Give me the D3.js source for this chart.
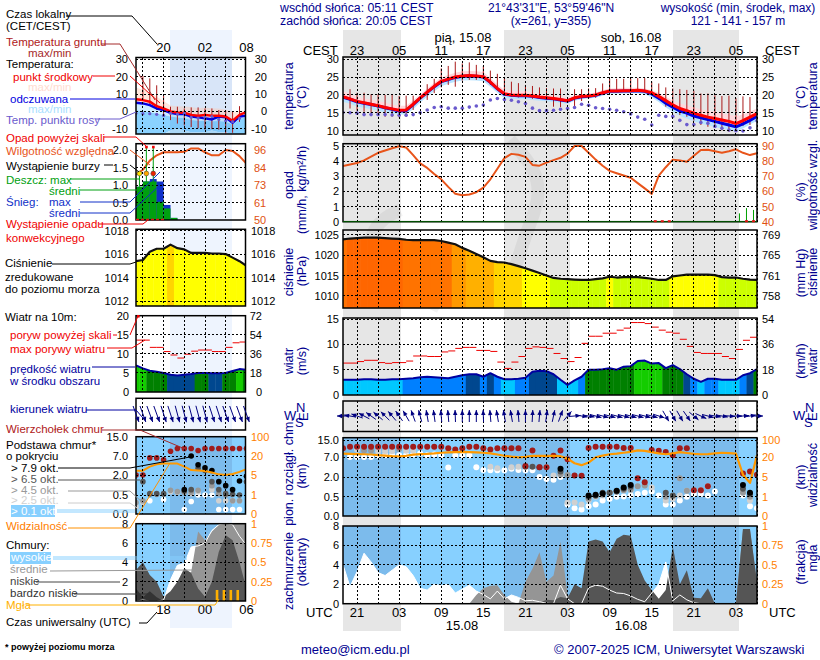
<!DOCTYPE html>
<html>
<head>
<meta charset="utf-8">
<script src="https://cdn.jsdelivr.net/npm/d3@7"></script>
<style>
  body { margin: 0; background: #fff; }
  text { font-family: "Liberation Sans", Arial, sans-serif; }
  .tick line, .domain { display: none; }
</style>
</head>
<body>
<div id="chart"></div>
<script>
// hour index 0 = 19 UTC on 14.08, one value per hour up to 06 UTC on 16.08
const temp = [19.5,18.9,18.2,17.8,17.4,17,16.5,16.1,15.7,15.8,17.4,19.2,20.8,22.4,23.8,24.4,25,25.3,25.4,25.3,25.1,23.6,21.8,20.3,20,19.9,19.9,19.7,19.4,19.2,19,18.7,18.4,19.2,19.6,19.7,20,20.6,21.1,21.1,21.2,21.2,21.3,21.1,20.6,19.6,18.4,17.2,16.2,15.6,14.9,14.3,13.8,13.4,13,12.6,12,12.8,13.8,14.8];
const tempMax = [21,20.3,19.5,19,18.7,18.3,17.8,17.3,17,17,18.5,20.2,21.8,23.4,24.9,25.6,26.2,26.6,26.7,26.6,26.4,24.8,23,21.4,21.2,21,21,20.7,20.3,20.1,19.8,19.5,19.2,19.9,20.2,20.4,20.7,21.3,21.8,21.9,22,22,22,21.8,21.3,20.6,19.5,18.4,17.6,17.1,16.5,16,15.6,15.3,14.9,14.5,14,14.6,15.4,16.2];
const tempMin = [18.2,17.6,17,16.6,16.2,15.8,15.3,15,14.7,14.8,16.3,18.1,19.7,21.2,22.6,23.3,23.9,24.2,24.3,24.2,24,22.5,20.8,19.3,19.1,19,19,18.8,18.6,18.4,18.2,18,17.8,18.6,19,19.2,19.4,20,20.5,20.5,20.6,20.7,20.7,20.5,20,19,17.7,16.5,15.4,14.7,13.9,13.3,12.8,12.4,12,11.5,11,11.8,12.9,13.9];
const feels = [19.4,18.8,18.1,17.7,17.3,16.9,16.4,16,15.5,15.6,17.3,19.1,20.7,22.3,23.7,24.3,24.9,25.2,25.3,25.2,25,23.5,21.7,20.2,19.9,19.8,19.8,19.6,19.3,19.1,18.9,18.6,18.3,19.1,19.5,19.6,19.9,20.5,21,21,21.1,21.1,21.2,21,20.3,19.1,17.7,16.6,15.5,14.9,14.1,13.6,13.1,12.6,12.1,11.6,11.1,11.9,12.9,14];
const feelsMin = [18.1,17.5,16.8,16.4,16,15.6,15.1,14.8,14.5,14.5,16,17.9,19.5,21,22.4,23.1,23.7,24,24.1,24,23.8,22.3,20.6,19.1,18.9,18.8,18.8,18.6,18.4,18.2,18,17.8,17.5,18.4,18.8,19,19.2,19.8,20.3,20.3,20.4,20.5,20.5,20.2,19.3,18,16.5,15.3,14.1,13.4,12.6,12,11.5,11,10.6,10.2,9.8,10.6,11.7,12.8];
const dewPoint = [15.1,15,14.9,14.5,14.5,14.5,14.5,14.4,14.3,14.3,14.5,15,15.8,16.5,16.7,16.3,16.3,16.3,16.6,16.9,17.2,18.6,19,18.7,18.5,18.1,17.6,16.3,15.6,15.6,15.7,16,16.2,16.5,17.4,17.1,16.4,16.2,16,15.7,15.3,14.7,13.8,13.2,11.6,14.3,14,14,12.9,11.7,11.7,12.3,12.1,11.2,10.7,10.2,10,9.9,10.8,12.8];
const groundMax = [null,21.6,20.6,20.6,20.2,20.2,20,20,19.7,19.8,19.8,null,23,24.5,27.4,28.1,29.3,28.8,29.1,28.4,28.1,26.8,25.9,24.7,23.7,23.3,22.8,22.5,22.1,21.9,21.8,21.8,null,21.6,21.6,21.8,21.9,23.2,24.5,24.5,24.5,24.6,24.7,24.7,23.7,23.2,22.1,21.8,21.6,21.4,21.2,20.4,20.4,19.9,19.7,19.8,19.1,19.6,19.4,null];
const groundMin = [null,16.2,15.6,15.3,14.9,14.4,13.9,13.9,13.7,13.9,15.8,null,18.6,20.5,22.1,22.8,22.3,24,24.2,24.2,24.5,22.8,21.4,19.8,19.5,19.3,18.9,18.9,18.9,18.5,16.7,16.6,null,16.2,18.3,19,19.2,20,21.4,21.4,21.4,21.4,21.1,21.1,20,18.6,16.7,16,14.4,13.9,12.8,11.6,11.1,11.1,10.1,9.7,9.7,11.3,11.6,null];
const humidity = [76.7,77.8,78.8,80.5,83,85.5,87,88.5,89.8,89,84,78.5,75.5,71.5,68,63,58.5,57.5,58,59.5,62.5,68,75,82,84.8,84.2,82.8,77.5,77,79,80.7,82.2,85,90,90,85.5,81,77,73.6,72,70.5,69,65.5,62,58.4,70.4,76,81,80.5,79.6,83.5,87.3,87.5,86.5,85.6,86.5,87.8,85.5,84,85.3];
const rainMaxHours = [56.5,57.5,58.5];
const rainMax = [0.55,0.9,0.78];
const convectiveHours = [44.5,45.5,46.5,57.5,58.5];
const pressure = [1023.9,1024.1,1024.2,1024.3,1024.3,1024.3,1024.2,1024.1,1024,1023.8,1023.7,1023.7,1023.7,1023.7,1023.5,1023.1,1022.7,1021.8,1021.1,1020.3,1019.5,1018.6,1018.3,1018.2,1017.8,1017.3,1016.8,1016.2,1015.6,1015,1014.4,1014.2,1014.1,1014,1013.9,1013.9,1014.1,1014.3,1014.7,1014.5,1014.6,1014.6,1014.6,1014.4,1014.2,1013.9,1013.9,1014.8,1015,1015.2,1015.2,1015.2,1015.2,1015.1,1014.6,1014.5,1014.5,1014.2,1014,1013.9];
const windMean = [3,3,3,3.1,3.1,3,3,3.1,3.1,3.2,3.3,3.5,3.6,3.5,3.4,3.3,3.6,3.9,4.1,4.1,3.6,4.3,3.6,3.1,3.1,3.2,3.4,4.6,4.8,4.7,4.1,3,2,2.9,3.6,5,5,5.1,5.3,5,5.6,5.7,6.7,6.8,6.2,6.3,5.3,5.9,5.1,4.1,3.2,2.6,3.2,3.2,3,3,3,3.9,4.3,5.1];
const windGust = [6.3,6.3,6.6,6.85,6.85,6.4,6.25,6.4,6.4,6.7,7.7,7.7,7.6,7.6,8.5,8.7,9.2,9.4,9.4,8.8,8.8,8.6,6.5,5.25,6.5,7.6,9.2,9.5,9.4,9.2,8.2,7.2,6.6,7.4,10.2,11.6,11.6,12.2,12.2,12.8,13.2,14.3,14.3,14.1,13.4,12.8,12.4,12.2,11,9.6,8.4,8.2,8.2,8.2,7.6,7.2,9,10.8,11.4];
const windDir = [270,280,290,298,305,310,315,320,325,330,340,345,350,352,355,355,358,0,0,0,358,355,350,350,350,355,0,3,5,8,12,20,40,85,100,100,105,105,105,105,105,105,105,105,105,108,150,150,150,145,130,115,105,100,100,95,90,85,80,90];
const cloudTop = [11.2,11.9,11.9,11.9,11.9,11.9,11.9,11.9,11.9,11.9,11.9,11.9,11.9,11.9,11.9,11.2,10.6,11.2,11.9,11.9,11.2,10.6,11.2,11.2,11.2,11.2,4.8,10.1,4.5,4.5,7.7,10.1,6.5,2.4,2.3,11.3,11.9,11.9,11.9,11.9,11.3,11.3,1.9,1.6,10.4,10,9.5,8,11.2,11.2,1,1,1.3,null,null,null,null,2.9,3.4,2.6];
const base01 = [null,7.1,7.1,7.1,7.1,7.7,7.9,7.9,7.9,8,8.3,8.7,8,8.3,8,4.4,7.8,7.8,7.8,4.5,3.8,3.7,3.7,3.7,4.1,3.8,3.7,3.7,2,1.85,1.8,2,0.3,0.2,0.17,0.25,0.3,0.4,0.45,0.5,0.52,0.6,0.7,0.8,0.9,0.6,0.3,0.3,0.4,0.5,0.7,0.7,0.6,0.9,null,null,null,0.6,0.25,0.2];
// [hour, km] pairs, these levels are only present at some hours
const base25 = [[2,10.5],[5,9.8],[6,9.8],[7,9.8],[9,10],[10,10.2],[21,4.6],[22,4.25],[24,4.5],[25,4.6],[29,4.5],[30,2.4],[31,2.5],[32,0.35],[33,0.35],[34,0.3],[35,0.4],[36,0.5],[37,0.6],[38,0.8],[39,0.9],[40,0.97],[41,1],[44,1.2],[46,0.4],[47,0.45],[48,0.6],[49,0.95],[50,1],[51,1],[52,1.3],[57,1],[58,0.4]];
const base45 = [[3,10.2],[4,10.2],[8,10.8],[31,2.7],[32,2.5],[35,0.45],[36,0.55],[37,0.65],[38,0.8],[39,0.9],[40,1],[41,1.05],[42,1.3],[43,1.35],[46,0.5],[47,0.55],[48,1.9],[49,0.95],[57,0.8],[58,0.5]];
const base65 = [[26,4.6],[27,4.6],[28,4.5],[31,3.4],[35,0.5],[36,0.6],[37,0.8],[38,0.8],[39,0.9],[40,1.1],[41,1.25],[46,0.8],[47,0.6],[57,1.1],[58,0.7]];
const base79 = [[31,4.1],[35,0.6],[36,0.65],[37,0.75],[39,0.95],[40,1.2],[41,1.4],[57,1.4],[58,0.8]];
const visibility = [37,36,35,34,33,30,28,25,24,27,32,35,36,38,41,43,44,45,44,43,41,38,33,27,23,20,22,27,27,27,27,25,19,15.5,14,16,20,28,34,37,41,45,52,50,44,38,34,38,44,40,36,34,35,38,41,39,37,6.75,3.8,30];
const cloudHigh = [4,1.75,3.3,5.2,4.3,3.2,2.9,3.45,4,3.8,2.9,1.6,1.4,2,1.85,2,1.1,1.5,1.9,1.3,0.95,0.5,1.3,0.5,0.9,0.65,0.3,0.35,0.2,0.05,0,1.9,0.5,0,0,1.64,1.9,1.8,1.4,1.1,1.05,0.8,0.45,0.2,1.1,2,4.3,0.3,0.9,0.4,0.1,0,0,0,0,0,0,0,0,0];
const cloudMid = [0,0,0,0,0,0,0,0,0,0,0,0,0,0,0,0,0,0,0,0.9,1.6,1.85,1.9,0.9,0.2,0,2.25,3.6,5.3,2.25,2.9,6.4,1,0,0,0,0,0,0,0,0,0,0,0,0,0,0,0,0,0,0,0,0,0,0,0,0,7.7,7.6,2.2];
const cloudLow = [0,0,0,0,0,0,0,0,0,0,0,0,0,0,0,0,0,0,0,0,0,0,0,0,0,0,0,0,0.1,0.4,0.35,0.7,0.55,2,1.6,6.4,6.6,6.4,5.3,6.7,7.1,7,4,2.4,1.4,0.5,1.4,5.9,2,3.45,0.6,0.55,1.6,0,0,0,0,7.7,7.7,2.25];

// side panel, hour index 0 = 14 UTC
const sideTemp = [7,6.5,5.6,3,1.7,0,-0.6,-0.8,-2,-2.5,-2,-2.5,-2.5,-3,-5.4,-2,-0.4];
const sideTempMax = [13.8,12.4,10.8,8.4,6,3.4,3,2.8,2.6,1.8,2.2,1.8,1.6,1,-0.2,0,0.5];
const sideFeels = [5,4.6,3.6,1.7,0.8,-0.8,-1.5,-1.5,-3,-3.4,-4,-4.6,-3,-3.4,-6.5,-3,-2.5];
const sideFeelsMax = [0.6,0.2,-0.5,-1.2,-2,-3,-3.5,-4,-5,-5.4,-5.4,-5.6,-5.5,-6,-7.5,-4.5,-3];
const sideFeelsMin = [-13,-13,-13,-13,-13,-11,-10,-11,-12,-12,-12,-11,-12,-12,-13,-13,-13];
const sideFloor = [-13.5,-13.5,-13.5,-13.5,-13.5,-13.5,-13.5,-13.5,-13.5,-13.5,-13.5,-13.5,-13.5,-13.5,-13.5,-13.5,-13.5];
const sideDew = [-1.1,-1.3,-1.3,-1.7,-2.3,-1.1,-1.5,-1.1,-3.4,-3.8,-3.4,-3,-4.6,-5.4,-5.9,-4];
const sideGroundMax = [null,20.4,19,15,9,2.7,2.7,1.7,2.3,2.3,1.7,1.7,0.8,0.4,-0.2,3];
const sideGroundMin = [null,6.5,4.2,0.8,-2,-5,-7,-8,-9,-9.7,-10.5,-10.2,-10.5,-12.7,-12.3,-6];
const sideHumidity = [80,83,89,92.5,94.5,94.5,94.5,94.8,97,97,94.5,92.5,92.5,96,95.3,92,87];
const sideRainMean = [0.95,1.1,1.1,0.52,0.33,0.06];
const sideRainTotal = [0.95,1.1,1.17,1.1,0.43,0.06];
const sideRainMaxHours = [0.5,1.5,2.5];
const sideRainMaxTop = [1.3,2.1,2.1];
const stormHours = [0.5,1.5,2.5];
const stormColors = ["#ffe600","#ffa500","#ee2200"];
const sidePressure = [1015.4,1015.5,1016.2,1016.45,1016.45,1016.8,1016.5,1016.4,1016.1,1016.1,1016.1,1016.05,1016.05,1016,1015.7,1015.4,1015];
const sideWind = [7,6.2,5.6,5.3,5,4.5,4.3,4.5,4.7,5,5,4.9,4.9,5,5.5,6,5.8];
const sideGust = [13.6,13.6,11.7,11.7,10.6,9.7,8.9,9.9,10.7,11,11,10.6,10.6,11.7,12.9,13.1];
const sideDir = [160,160,160,160,162,162,165,165,165,165,165,162,162,160,160,160,160];
const sideTop = [2,2,6.5,6.5,6,9,10.1,10.1,10.1,9.3,10.1,10.1,10.1,10.1,10.1,10.1,10.1];
const sideBase79 = [[7,0.9],[8,7],[9,4.7],[10,3.9],[11,3.2],[12,1.5],[13,1.2],[14,0.9],[15,1.55],[16,1.9]];
const sideBase65 = [[1,1.5],[2,0.6],[3,0.6],[4,0.6],[7,0.8],[8,0.9],[9,3.8],[10,3.2],[11,1.5],[12,0.9],[13,0.6],[14,0.55],[15,0.5],[16,1.5]];
const sideBase45 = [[0,0.3],[1,0.35],[2,0.55],[3,0.55],[4,0.55],[5,0.85],[6,0.75],[7,0.7],[8,0.7],[9,0.85],[11,1.2],[12,0.6],[13,0.5],[14,0.35],[15,0.35]];
const sideBase25 = [[0,0.2],[1,0.3],[5,0.75],[6,0.7],[8,0.6],[9,0.75],[11,0.9],[12,0.35],[13,0.35],[14,0.35],[15,0.35]];
const sideBase01 = [[2,0.35],[4,0.38],[7,0.12],[8,0.33],[9,0.5],[10,0.5],[11,0.5],[12,0.12],[13,0.12],[14,0.12],[15,0.12]];
const sideVis = [8.4,8.4,11.6,13.4,14,14,14,11.6,8.9,8.5,8.2,7,5.5,5,5.8,7.5,9.7];
const sideHigh = [0,0.1,0,0,0.1,2.2,3.7,3.9,5.6,5.7,6,7.3,7.9,8,7.9,6.7,5.8];
const sideMid = [0,0,0,0,0,0,0.4,2.6,3,7.2,6.3,7.2,7.9,8,8,8,8];
const sideLow = [3.2,4,2.7,2,0.45,1,2,3.4,2.9,1.3,0.45,2,5.1,6.8,6.3,4,1.3];
const sideVeryLow = [1.3,0.4,1,0.4,0,0,0,0,0,0,0,0,0,0,0,0,0];
const fogHours = [11.7,12.7,13.7,14.7];

// tick labels
const mainGridHours = d3.range(2, 60, 3);
const timeHours = [2,8,14,20,26,32,38,44,50,56];
const cestLabels = ["23","05","11","17","23","05","11","17","23","05"];
const utcLabels = ["21","03","09","15","21","03","09","15","21","03"];
const sideGridHours = [1,4,7,10,13];
const nightBands = [[343,401],[504,570],[673,739]];

const navy = "#000090", sky = "#87d0ff", skyNight = "#7cbbec";
const lineRed = "#ff0000", humOrange = "#e8541a", axisOrange = "#ff8000";

const svg = d3.select("#chart").append("svg").attr("width", 820).attr("height", 660);
const defs = svg.append("defs");
let clipCount = 0;

const xMain = d3.scaleLinear([0, 59], [343, 757]);
const xSide = d3.scaleLinear([0, 16], [136, 246.4]);

// night bands behind everything
nightBands.forEach((b) => {
  svg.append("rect").attr("x", b[0]).attr("y", 30).attr("width", b[1] - b[0]).attr("height", 601).attr("fill", "#e6e6e6");
});
svg.append("rect").attr("x", 170).attr("y", 30).attr("width", 62).attr("height", 598).attr("fill", "#eef4fe");

// faint logo swirl behind the panels
const swirl = d3.line().curve(d3.curveBasis);
[[[400, 210], [373, 223], [365, 263], [407, 290], [440, 307]],
 [[510, 140], [537, 170], [540, 200], [527, 230], [517, 263], [507, 290]]].forEach((pts) => {
  svg.append("path").attr("d", swirl(pts)).attr("fill", "none").attr("stroke", "#000")
    .attr("stroke-opacity", 0.05).attr("stroke-width", 13);
});

function addText(g, s, x, y, color, size, anchor) {
  return g.append("text").attr("x", x).attr("y", y).attr("fill", color || "#000")
    .attr("font-size", size || 11).attr("text-anchor", anchor || "start").text(s);
}

function vText(s, x, yc, color) {
  svg.append("text").attr("transform", `translate(${x},${yc}) rotate(-90)`)
    .attr("fill", color || navy).attr("font-size", 12.5).attr("text-anchor", "middle").text(s);
}

function makePanel(x, y, x0, x1) {
  const id = "clip" + clipCount++;
  const [y0, y1] = [y.range()[0], y.range()[y.range().length - 1]];
  defs.append("clipPath").attr("id", id).append("rect")
    .attr("x", x0).attr("y", y1).attr("width", x1 - x0).attr("height", y0 - y1);
  const g = svg.append("g");
  return { g: g, body: g.append("g").attr("clip-path", `url(#${id})`), x0, x1, y0, y1 };
}

function drawGrid(p, x, y, gridHours, gridValues) {
  const grid = p.g.append("g").attr("stroke", "#000").attr("stroke-dasharray", "2,2").attr("shape-rendering", "crispEdges");
  gridHours.forEach((h) => {
    grid.append("line").attr("x1", x(h)).attr("x2", x(h)).attr("y1", p.y1).attr("y2", p.y0);
  });
  gridValues.forEach((v) => {
    grid.append("line").attr("x1", p.x0).attr("x2", p.x1).attr("y1", y(v)).attr("y2", y(v));
  });
  p.g.append("rect").attr("x", p.x0).attr("y", p.y1).attr("width", p.x1 - p.x0).attr("height", p.y0 - p.y1)
    .attr("fill", "none").attr("stroke", "#000").attr("stroke-width", 1.5);
}

function drawAxis(side, scale, values, labels, at, color, anchor) {
  const axis = side === "left" ? d3.axisLeft(scale) : d3.axisRight(scale);
  axis.tickValues(values).tickSize(0).tickPadding(0).tickFormat((d, i) => labels[i]);
  const g = svg.append("g").attr("transform", `translate(${at},0)`).call(axis);
  g.selectAll("text").attr("fill", color || "#000").attr("font-size", 11)
    .attr("font-family", '"Liberation Sans", Arial, sans-serif');
  if (anchor) g.selectAll("text").attr("text-anchor", anchor);
  g.select(".domain").remove();
}

const hourOf = (arr) => arr.map((v, i) => [i, v]);

function drawLine(p, x, y, pts, color, width) {
  p.body.append("path")
    .attr("d", d3.line().defined((d) => d[1] !== null).x((d) => x(d[0])).y((d) => y(d[1]))(pts))
    .attr("fill", "none").attr("stroke", color).attr("stroke-width", width).attr("stroke-linejoin", "round");
}

function drawBand(p, x, y, hi, lo, color) {
  const area = d3.area().x((d, i) => x(i)).y0((d, i) => y(lo[i])).y1((d, i) => y(hi[i]));
  p.body.append("path").attr("d", area(hi)).attr("fill", color);
}

function stepFill(p, x, y, values, color, base) {
  const id = "clip" + clipCount++;
  const area = d3.area().x((d, i) => x(i)).y0(y(base)).y1((d) => y(d));
  defs.append("clipPath").attr("id", id).append("path").attr("d", area(values));
  const g = p.body.append("g").attr("clip-path", `url(#${id})`);
  g.selectAll("rect").data(values).enter().append("rect")
    .attr("x", (d, i) => x(i - 0.5)).attr("width", (d, i) => x(i + 0.5) - x(i - 0.5) + 0.4)
    .attr("y", p.y1).attr("height", p.y0 - p.y1)
    .attr("fill", (d) => color(d));
}

function drawArrows(g, x, yc, dirs, len) {
  dirs.forEach((dir, i) => {
    const a = (dir * Math.PI) / 180, dx = Math.sin(a), dy = -Math.cos(a);
    const cx = x(i), cy = yc, tipX = cx + (dx * len) / 2, tipY = cy + (dy * len) / 2;
    g.append("line").attr("x1", cx - (dx * len) / 2).attr("y1", cy - (dy * len) / 2)
      .attr("x2", tipX).attr("y2", tipY).attr("stroke", "#000080").attr("stroke-width", 1);
    const bx = tipX - dx * 5, by = tipY - dy * 5;
    g.append("path").attr("fill", "#000080")
      .attr("d", `M${tipX},${tipY}L${bx - dy * 2.2},${by + dx * 2.2}L${bx + dy * 2.2},${by - dx * 2.2}Z`);
  });
}

function dots(p, x, y, pts, color, r) {
  p.body.append("g").selectAll("circle").data(pts.filter((d) => d[1] !== null)).enter().append("circle")
    .attr("cx", (d) => x(d[0])).attr("cy", (d) => y(d[1])).attr("r", r).attr("fill", color);
}

function cloudLayers(p, x, y, high, mid, low, veryLow) {
  const area = (vals) => d3.area().x((d, i) => x(i)).y0(y(0)).y1((d) => y(d))(vals);
  p.body.append("path").attr("d", area(high)).attr("fill", "#fff");
  p.body.append("path").attr("d", area(mid)).attr("fill", "#959595");
  p.body.append("path").attr("d", area(low)).attr("fill", "#555");
  if (veryLow) p.body.append("path").attr("d", area(veryLow)).attr("fill", "#333");
  drawLine(p, x, y, hourOf(high), "#fff", 1);
}

// wind and pressure colour classes
const windColor = d3.scaleThreshold().domain([3.15, 4, 5, 6]).range(["#00c8ff", "#0080ff", "#00478f", "#008000", "#14cc00"]);
const pressColor = d3.scaleThreshold().domain([1014.65, 1016.9, 1018.4, 1021.3, 1022.8, 1023.95])
  .range(["#ccff00", "#ffff00", "#ffd400", "#ffb000", "#ff9900", "#ff7300", "#ff6600"]);

// ---- main column ----
const yTemp = d3.scaleLinear([8.8, 30.6], [135, 57]);
const yPrec = d3.scaleLinear([0, 5.16], [221.7, 143.7]);
const yHum = d3.scaleLinear([40, 90], [221.7, 146]);
const yPres = d3.scaleLinear([1007, 1026.2], [308, 230]);
const yWind = d3.scaleLinear([0, 15.2], [395, 318]);
const yBase = d3.scaleLinear([0, 0.5, 2, 7, 15, 16], [516, 496.7, 477, 457.3, 440, 437.7]);
const yVis = d3.scaleLinear([0, 1, 5, 20, 100, 110], [516, 496.7, 477, 457.3, 440, 437.7]);
const yCloud = d3.scaleLinear([0, 8], [603.7, 526]);

let p = makePanel(xMain, yTemp, 343, 757);
drawBand(p, xMain, yTemp, tempMax, tempMin, "#ffd8dc");
drawBand(p, xMain, yTemp, feels, feelsMin, "#b8e4ff");
drawGrid(p, xMain, yTemp, mainGridHours, [10, 15, 20, 25, 30]);
groundMax.forEach((v, i) => {
  if (v === null) return;
  p.body.append("line").attr("x1", xMain(i)).attr("x2", xMain(i)).attr("y1", yTemp(v)).attr("y2", yTemp(groundMin[i]))
    .attr("stroke", "#aa1a1a").attr("stroke-width", 1);
});
drawLine(p, xMain, yTemp, hourOf(feels), "#0000e0", 3);
drawLine(p, xMain, yTemp, hourOf(temp), lineRed, 3);
dots(p, xMain, yTemp, hourOf(dewPoint), "#6a5acd", 1.8);

p = makePanel(xMain, yPrec, 343, 757);
drawGrid(p, xMain, yPrec, mainGridHours, [0, 1, 2, 3, 4, 5]);
rainMaxHours.forEach((h, i) => {
  p.body.append("line").attr("x1", xMain(h)).attr("x2", xMain(h)).attr("y1", yPrec(0)).attr("y2", yPrec(rainMax[i]))
    .attr("stroke", "#00a000").attr("stroke-width", 1);
});
p.g.append("line").attr("x1", 343).attr("x2", 757).attr("y1", yPrec(0)).attr("y2", yPrec(0)).attr("stroke", "#006000");
convectiveHours.forEach((h) => {
  p.g.append("rect").attr("x", xMain(h) - 1.5).attr("y", yPrec(0) - 1.5).attr("width", 3).attr("height", 2).attr("fill", "#e01010");
});
drawLine(p, xMain, yHum, hourOf(humidity), humOrange, 2);

p = makePanel(xMain, yPres, 343, 757);
stepFill(p, xMain, yPres, pressure, pressColor, 1007);
drawGrid(p, xMain, yPres, mainGridHours, [1010, 1015, 1020, 1025]);
drawLine(p, xMain, yPres, hourOf(pressure), "#111", 2.2);

p = makePanel(xMain, yWind, 343, 757);
stepFill(p, xMain, yWind, windMean, windColor, 0);
drawGrid(p, xMain, yWind, mainGridHours, [5, 10, 15]);
windGust.forEach((v, i) => {
  p.body.append("line").attr("x1", xMain(i)).attr("x2", xMain(i + 1)).attr("y1", yWind(v)).attr("y2", yWind(v))
    .attr("stroke", "#ee0000").attr("stroke-width", 1);
});
drawLine(p, xMain, yWind, hourOf(windMean), "#0000a0", 2);

const yDirMain = d3.scaleLinear([0, 1], [431.5, 401]);
p = makePanel(xMain, yDirMain, 343, 757);
drawGrid(p, xMain, yDirMain, mainGridHours, []);
drawArrows(svg.append("g"), xMain, 416, windDir, 12);

p = makePanel(xMain, yBase, 343, 757);
p.body.append("rect").attr("x", 343).attr("y", 437).attr("width", 414).attr("height", 80).attr("fill", sky);
nightBands.forEach((b) => {
  p.body.append("rect").attr("x", b[0]).attr("y", 437).attr("width", b[1] - b[0]).attr("height", 80).attr("fill", skyNight);
});
dots(p, xMain, yBase, hourOf(base01), "#fff", 3);
dots(p, xMain, yBase, base25, "#d0d0d0", 3);
dots(p, xMain, yBase, base45, "#999", 3);
dots(p, xMain, yBase, base65, "#555", 3);
dots(p, xMain, yBase, base79, "#000", 3);
dots(p, xMain, yBase, hourOf(cloudTop), "#a01c1c", 3);
drawGrid(p, xMain, yBase, mainGridHours, [0.5, 2, 7, 15]);
drawLine(p, xMain, yVis, hourOf(visibility), "#ff9900", 2.2);

p = makePanel(xMain, yCloud, 343, 757);
p.body.append("rect").attr("x", 343).attr("y", 525).attr("width", 414).attr("height", 80).attr("fill", sky);
nightBands.forEach((b) => {
  p.body.append("rect").attr("x", b[0]).attr("y", 525).attr("width", b[1] - b[0]).attr("height", 80).attr("fill", skyNight);
});
cloudLayers(p, xMain, yCloud, cloudHigh, cloudMid, cloudLow);
drawGrid(p, xMain, yCloud, mainGridHours, [2, 4, 6]);

// main axes
drawAxis("left", yTemp, [10, 15, 20, 25, 30], ["10", "15", "20", "25", "30"], 339);
drawAxis("right", yTemp, [10, 15, 20, 25, 30], ["10", "15", "20", "25", "30"], 762);
drawAxis("left", yPrec, [0, 1, 2, 3, 4, 5], ["0", "1", "2", "3", "4", "5"], 339);
drawAxis("right", yHum, [40, 50, 60, 70, 80, 90], ["40", "50", "60", "70", "80", "90"], 762, "#e05010");
drawAxis("left", yPres, [1010, 1015, 1020, 1025], ["1010", "1015", "1020", "1025"], 339);
drawAxis("right", yPres, [1010, 1015, 1020, 1025], ["758", "761", "765", "769"], 762);
drawAxis("left", yWind, [0, 5, 10, 15], ["0", "5", "10", "15"], 339);
drawAxis("right", yWind, [0, 5, 10, 15], ["0", "18", "36", "54"], 762);
drawAxis("left", yBase, [0, 0.5, 2, 7, 15], ["0.0", "0.5", "2.0", "7.0", "15.0"], 339);
drawAxis("right", yBase, [0, 0.5, 2, 7, 15], ["0", "1", "5", "20", "100"], 762, axisOrange);
drawAxis("left", yCloud, [0, 2, 4, 6, 8], ["0", "2", "4", "6", "8"], 339);
drawAxis("right", yCloud, [0, 2, 4, 6, 8], ["0", "0.25", "0.5", "0.75", "1"], 762, axisOrange);

const labels = svg.append("g");
timeHours.forEach((h, i) => {
  addText(labels, cestLabels[i], xMain(h), 54.5, "#000", 13, "middle");
  addText(labels, utcLabels[i], xMain(h), 617, "#000", 13, "middle");
});
addText(labels, "CEST", 303, 54.5, "#000", 13);
addText(labels, "CEST", 765, 54.5, "#000", 13);
addText(labels, "UTC", 306, 617, "#000", 13);
addText(labels, "UTC", 769, 617, "#000", 13);
addText(labels, "pią, 15.08", 463, 42, "#000", 13, "middle");
addText(labels, "sob, 16.08", 631, 42, "#000", 13, "middle");
addText(labels, "15.08", 462, 630, "#000", 13, "middle");
addText(labels, "16.08", 631, 630, "#000", 13, "middle");
addText(labels, "wschód słońca: 05:11 CEST", 280, 12, navy, 12.3);
addText(labels, "zachód słońca: 20:05 CEST", 280, 25, navy, 12.3);
addText(labels, "21°43'31\"E, 53°59'46\"N", 551, 12, navy, 12, "middle");
addText(labels, "(x=261, y=355)", 551, 25, navy, 12, "middle");
addText(labels, "wysokość (min, środek, max)", 738, 12, navy, 12, "middle");
addText(labels, "121 - 141 - 157 m", 738, 25, navy, 12, "middle");
addText(labels, "meteo@icm.edu.pl", 301, 654, navy, 13);
addText(labels, "© 2007-2025 ICM, Uniwersytet Warszawski", 554, 654, navy, 13);

[["temperatura", 293, 96], ["(°C)", 306, 97], ["opad", 293, 185], ["(mm/h, kg/m²/h)", 306, 190],
 ["ciśnienie", 293, 272], ["(hPa)", 306, 271], ["wiatr", 293, 361], ["(m/s)", 306, 361],
 ["pion. rozciągł. chm.", 293, 472], ["(km)", 306, 476], ["zachmurzenie", 293, 571], ["(oktanty)", 306, 562],
 ["temperatura", 817, 96], ["(°C)", 805, 97], ["wilgotność wzgl.", 817, 185], ["(%)", 805, 192],
 ["ciśnienie", 817, 272], ["(mm Hg)", 805, 273], ["wiatr", 817, 361], ["(km/h)", 805, 361],
 ["widzialność", 817, 475], ["(km)", 805, 477], ["mgła", 817, 558], ["(frakcja)", 805, 562]]
  .forEach((d) => vText(d[0], d[1], d[2]));

[[284, 420], [793, 420]].forEach((c) => {
  addText(labels, "W", c[0], c[1], navy, 13);
  addText(labels, "N", c[0] + 12, c[1] - 8, navy, 13);
  addText(labels, "S", c[0] + 11, c[1] + 7, navy, 13);
  labels.append("text").attr("transform", `translate(${c[0] + 24},${c[1] + 1}) rotate(-90)`)
    .attr("fill", navy).attr("font-size", 13).text("E");
});

// ---- side column ----
const ySideTemp = d3.scaleLinear([-13, 31], [134, 57.5]);
const ySidePrec = d3.scaleLinear([0, 2.18], [220, 143.7]);
const ySideHum = d3.scaleLinear([50, 96, 110], [220, 150, 128]);
const ySidePres = d3.scaleLinear([1011.6, 1018.1], [306, 229.3]);
const ySideWind = d3.scaleLinear([0, 20], [392, 315.7]);
const ySideBase = d3.scaleLinear([0, 0.5, 2, 7, 15], [514, 495, 475, 456, 436.7]);
const ySideVis = d3.scaleLinear([0, 1, 5, 20, 100], [514, 495, 475, 456, 436.7]);
const ySideCloud = d3.scaleLinear([0, 8], [601, 523.7]);

p = makePanel(xSide, ySideTemp, 136, 245.5);
drawBand(p, xSide, ySideTemp, sideTempMax, sideFeels, "#ffe6dc");
drawBand(p, xSide, ySideTemp, sideFeels, sideFeelsMax, "#cdeeff");
drawBand(p, xSide, ySideTemp, sideFeelsMax, sideFeelsMin, "#8ad2ff");
drawBand(p, xSide, ySideTemp, sideFeelsMin, sideFloor, "#b8e2fb");
p.body.append("rect").attr("x", 170).attr("y", 57).attr("width", 62).attr("height", 78).attr("fill", "#2060c0").attr("opacity", 0.1);
drawGrid(p, xSide, ySideTemp, sideGridHours, [-10, 0, 10, 20, 30]);
sideGroundMax.forEach((v, i) => {
  if (v === null) return;
  p.body.append("line").attr("x1", xSide(i)).attr("x2", xSide(i)).attr("y1", ySideTemp(v)).attr("y2", ySideTemp(sideGroundMin[i]))
    .attr("stroke", "#aa1a1a").attr("stroke-width", 1);
});
drawLine(p, xSide, ySideTemp, hourOf(sideFeels), "#0000e0", 2.5);
drawLine(p, xSide, ySideTemp, hourOf(sideTemp), lineRed, 2.5);
dots(p, xSide, ySideTemp, hourOf(sideDew), "#6a5acd", 1.6);

p = makePanel(xSide, ySidePrec, 136, 245.5);
sideRainTotal.forEach((v, i) => {
  p.body.append("rect").attr("x", xSide(i)).attr("width", xSide(i + 1) - xSide(i)).attr("y", ySidePrec(v))
    .attr("height", ySidePrec(0) - ySidePrec(v)).attr("fill", "#1030c8");
  p.body.append("rect").attr("x", xSide(i)).attr("width", xSide(i + 1) - xSide(i)).attr("y", ySidePrec(sideRainMean[i]))
    .attr("height", ySidePrec(0) - ySidePrec(sideRainMean[i])).attr("fill", "#00a010");
});
drawGrid(p, xSide, ySidePrec, sideGridHours, [0.5, 1, 1.5, 2]);
sideRainMaxHours.forEach((h, i) => {
  p.g.append("line").attr("x1", xSide(h)).attr("x2", xSide(h)).attr("y1", ySidePrec(sideRainMaxTop[i])).attr("y2", ySidePrec(0.95))
    .attr("stroke", "#00a010").attr("stroke-width", 1);
});
p.g.append("line").attr("x1", 136).attr("x2", 165).attr("y1", 219.5).attr("y2", 219.5).attr("stroke", "#e01010").attr("stroke-dasharray", "3,2").attr("stroke-width", 1.5);
[1.5, 2.5].forEach((h) => {
  p.g.append("rect").attr("x", xSide(h) - 1.2).attr("y", 145.8).attr("width", 2.6).attr("height", 2.6).attr("fill", "#f00000");
});
stormHours.forEach((h, i) => {
  p.g.append("circle").attr("cx", xSide(h)).attr("cy", 173.5).attr("r", 2.4).attr("fill", stormColors[i]).attr("stroke", "#333").attr("stroke-width", 0.5);
});
drawLine(p, xSide, ySideHum, hourOf(sideHumidity), humOrange, 2);

p = makePanel(xSide, ySidePres, 136, 245.5);
stepFill(p, xSide, ySidePres, sidePressure, d3.scaleThreshold().domain([1016.7]).range(["#ffff00", "#ffd400"]), 1011.6);
drawGrid(p, xSide, ySidePres, sideGridHours, [1012, 1014, 1016, 1018]);
drawLine(p, xSide, ySidePres, hourOf(sidePressure), "#111", 2.2);

p = makePanel(xSide, ySideWind, 136, 245.5);
stepFill(p, xSide, ySideWind, sideWind, windColor, 0);
drawGrid(p, xSide, ySideWind, sideGridHours, [5, 10, 15]);
sideGust.forEach((v, i) => {
  p.body.append("line").attr("x1", xSide(i)).attr("x2", xSide(i + 1)).attr("y1", ySideWind(v)).attr("y2", ySideWind(v))
    .attr("stroke", "#ee0000").attr("stroke-width", 1);
});
drawLine(p, xSide, ySideWind, hourOf(sideWind), "#0000a0", 2);
p.g.append("rect").attr("x", 137).attr("y", 315).attr("width", 2.6).attr("height", 2.6).attr("fill", "#f00000");

const ySideDir = d3.scaleLinear([0, 1], [430, 398.3]);
p = makePanel(xSide, ySideDir, 136, 245.5);
drawGrid(p, xSide, ySideDir, sideGridHours, []);
drawArrows(svg.append("g"), xSide, 414, sideDir, 17);

p = makePanel(xSide, ySideBase, 136, 245.5);
p.body.append("rect").attr("x", 136).attr("y", 436).attr("width", 110).attr("height", 79).attr("fill", sky);
p.body.append("rect").attr("x", 170).attr("y", 436).attr("width", 62).attr("height", 79).attr("fill", skyNight);
dots(p, xSide, ySideBase, sideBase01, "#fff", 2.8);
dots(p, xSide, ySideBase, sideBase25, "#d0d0d0", 2.8);
dots(p, xSide, ySideBase, sideBase45, "#999", 2.8);
dots(p, xSide, ySideBase, sideBase65, "#555", 2.8);
dots(p, xSide, ySideBase, sideBase79, "#000", 2.8);
dots(p, xSide, ySideBase, hourOf(sideTop), "#a01c1c", 2.8);
drawGrid(p, xSide, ySideBase, sideGridHours, [0.5, 2, 7]);
drawLine(p, xSide, ySideVis, hourOf(sideVis), "#ff9900", 2);

p = makePanel(xSide, ySideCloud, 136, 245.5);
p.body.append("rect").attr("x", 136).attr("y", 523).attr("width", 110).attr("height", 79).attr("fill", sky);
p.body.append("rect").attr("x", 170).attr("y", 523).attr("width", 62).attr("height", 79).attr("fill", skyNight);
cloudLayers(p, xSide, ySideCloud, sideHigh, sideMid, sideLow, sideVeryLow);
fogHours.forEach((h) => {
  p.body.append("rect").attr("x", xSide(h) - 1).attr("y", 590).attr("width", 2.6).attr("height", 11).attr("fill", "#ffb000");
});
drawGrid(p, xSide, ySideCloud, sideGridHours, [2, 4, 6]);

// side axes
drawAxis("left", ySideTemp, [-10, 0, 10, 20, 30], ["-10", "0", "10", "20", "30"], 128);
drawAxis("right", ySideTemp, [-10, 0, 10, 20, 30], ["-10", "0", "10", "20", "30"], 267, null, "end");
drawAxis("left", ySidePrec, [0, 0.5, 1, 1.5, 2], ["0.0", "0.5", "1.0", "1.5", "2.0"], 128);
drawAxis("right", ySidePrec, [0, 0.5, 1, 1.5, 2], ["50", "61", "73", "84", "96"], 254, "#e05010");
drawAxis("left", ySidePres, [1012, 1014, 1016, 1018], ["1012", "1014", "1016", "1018"], 129);
drawAxis("right", ySidePres, [1012, 1014, 1016, 1018], ["1012", "1014", "1016", "1018"], 251);
drawAxis("left", ySideWind, [0, 5, 10, 15, 20], ["0", "5", "10", "15", "20"], 129);
drawAxis("right", ySideWind, [0, 5, 10, 15, 20], ["0", "18", "36", "54", "72"], 262, null, "end");
drawAxis("left", ySideBase, [0, 0.5, 2, 7, 15], ["0.0", "0.5", "2.0", "7.0", "15.0"], 128);
drawAxis("right", ySideBase, [0, 0.5, 2, 7, 15], ["0", "1", "5", "20", "100"], 251, axisOrange);
drawAxis("left", ySideCloud, [0, 2, 4, 6, 8], ["0", "2", "4", "6", "8"], 128);
drawAxis("right", ySideCloud, [0, 2, 4, 6, 8], ["0", "0.25", "0.5", "0.75", "1"], 251, axisOrange);

const legend = svg.append("g");
[[4, "20"], [10, "02"], [16, "08"]].forEach((d) => addText(legend, d[1], xSide(d[0]), 52, "#000", 13, "middle"));
[[4, "18"], [10, "00"], [16, "06"]].forEach((d) => addText(legend, d[1], xSide(d[0]), 614, "#000", 13, "middle"));

// sky-blue label boxes
legend.append("rect").attr("x", 11).attr("y", 505).attr("width", 44).attr("height", 12).attr("fill", sky);
legend.append("rect").attr("x", 10).attr("y", 552).attr("width", 41).attr("height", 12).attr("fill", sky);

const legendRows = [
  ["Czas lokalny", 6, 18, "#000"], ["(CET/CEST)", 6, 30, "#000"],
  ["Temperatura gruntu", 6, 46, "#b02020"], ["max/min", 28, 57, "#a52a2a"],
  ["Temperatura:", 6, 68, "#000"], ["punkt środkowy", 13, 81, "#f00000"],
  ["max/min", 28, 91, "#ffdcd0"], ["odczuwana", 10, 103, "#0000e0"],
  ["max/min", 28, 113, "#a8e0ff"], ["Temp. punktu rosy", 6, 124, "#6a5acd"],
  ["Opad powyżej skali", 6, 142, "#f00000"], ["Wilgotność względna", 6, 155, humOrange],
  ["Wystąpienie burzy", 6, 170, "#000"], ["Deszcz: max", 6, 184, "#00a010"],
  ["średni", 49, 195, "#00a010"], ["Śnieg:", 6, 206, "#1030c8"], ["max", 49, 206, "#1030c8"],
  ["średni", 49, 217, "#1030c8"], ["Wystąpienie opadu", 6, 228, "#f00000"],
  ["konwekcyjnego", 6, 242, "#f00000"], ["Ciśnienie", 5, 267, "#000"],
  ["zredukowane", 5, 281, "#000"], ["do poziomu morza", 5, 293, "#000"],
  ["Wiatr na 10m:", 5, 321, "#000"], ["poryw powyżej skali", 10, 339, "#f00000"],
  ["max porywy wiatru", 10, 353, "#f00000"], ["prędkość wiatru", 10, 373, "#0000a0"],
  ["w środku obszaru", 10, 385, "#0000a0"], ["kierunek wiatru", 10, 413, "#0000a0"],
  ["Wierzchołek chmur", 6, 433, "#b02020"], ["Podstawa chmur*", 6, 449, "#000"],
  ["o pokryciu", 6, 460, "#000"], ["> 7.9 okt.", 11, 472, "#000"], ["> 6.5 okt.", 11, 483, "#555"],
  ["> 4.5 okt.", 11, 494, "#999"], ["> 2.5 okt.", 11, 504, "#d0d0d0"], ["> 0.1 okt.", 11, 515, "#fff"],
  ["Widzialność", 6, 530, "#ff8000"], ["Chmury:", 6, 549, "#000"], ["wysokie", 11, 561, "#fff"],
  ["średnie", 10, 573, "#999"], ["niskie", 10, 585, "#444"], ["bardzo niskie", 10, 597, "#333"],
  ["Mgła", 6, 609, "#ffb000"], ["Czas uniwersalny (UTC)", 6, 626, "#000"]
];
legendRows.forEach((d) => addText(legend, d[0], d[1], d[2], d[3], 11.5));
addText(legend, "* powyżej poziomu morza", 5, 650, "#000", 9).attr("font-weight", "bold");

// leader lines from the labels to the side column
const leaders = [
  [[[66, 16], [132, 16], [157, 44]], "#000"],
  [[[101, 44], [120, 44], [155, 100]], "#a52a2a"],
  [[[93, 76], [115, 76]], "#f00000"], [[[130, 76], [160, 103]], "#f00000"],
  [[[70, 99], [135, 99]], "#0000e0"],
  [[[96, 119], [120, 119], [136, 112]], "#6a5acd"],
  [[[104, 137], [136, 137], [146, 146]], "#f00000"],
  [[[108, 150], [112, 150]], humOrange], [[[130, 150], [150, 165]], humOrange],
  [[[104, 165], [113, 165]], "#000"], [[[130, 165], [139, 172]], "#000"],
  [[[70, 179], [140, 179]], "#00a010"], [[[80, 190], [155, 190]], "#00a010"],
  [[[80, 202], [130, 202], [160, 172]], "#1030c8"], [[[80, 213], [130, 213], [160, 185]], "#1030c8"],
  [[[99, 224], [143, 224], [148, 220]], "#f00000"],
  [[[52, 264], [130, 264], [136, 262]], "#000"],
  [[[113, 335], [117, 335]], "#f00000"], [[[130, 335], [138, 316]], "#f00000"],
  [[[107, 348], [132, 348], [145, 340]], "#f00000"],
  [[[92, 367], [135, 367]], "#0000a0"],
  [[[86, 410], [136, 410], [143, 418]], "#0000a0"],
  [[[102, 430], [140, 430], [185, 449]], "#a52a2a"],
  [[[58, 468], [130, 468], [190, 457]], "#000"],
  [[[58, 480], [140, 480]], "#555"],
  [[[68, 491], [130, 491], [143, 503]], "#999"],
  [[[68, 503], [130, 503], [140, 510]], "#ccc"],
  [[[57, 510], [135, 510]], sky], [[[57, 512], [135, 512]], sky],
  [[[68, 528], [130, 528], [170, 463]], "#ff9000"],
  [[[53, 557], [187, 557]], sky], [[[53, 559], [187, 559]], sky],
  [[[50, 571], [193, 570]], "#999"],
  [[[36, 582], [120, 582]], "#444"],
  [[[74, 594], [150, 594]], "#333"],
  [[[26, 605], [215, 605], [219, 599]], "#ffb000"],
  [[[139, 623], [147, 623], [157, 612]], "#000"]
];
const leaderLine = d3.line();
leaders.forEach((d) => {
  legend.append("path").attr("d", leaderLine(d[0])).attr("fill", "none").attr("stroke", d[1]).attr("stroke-width", 1);
});
</script>
</body>
</html>
